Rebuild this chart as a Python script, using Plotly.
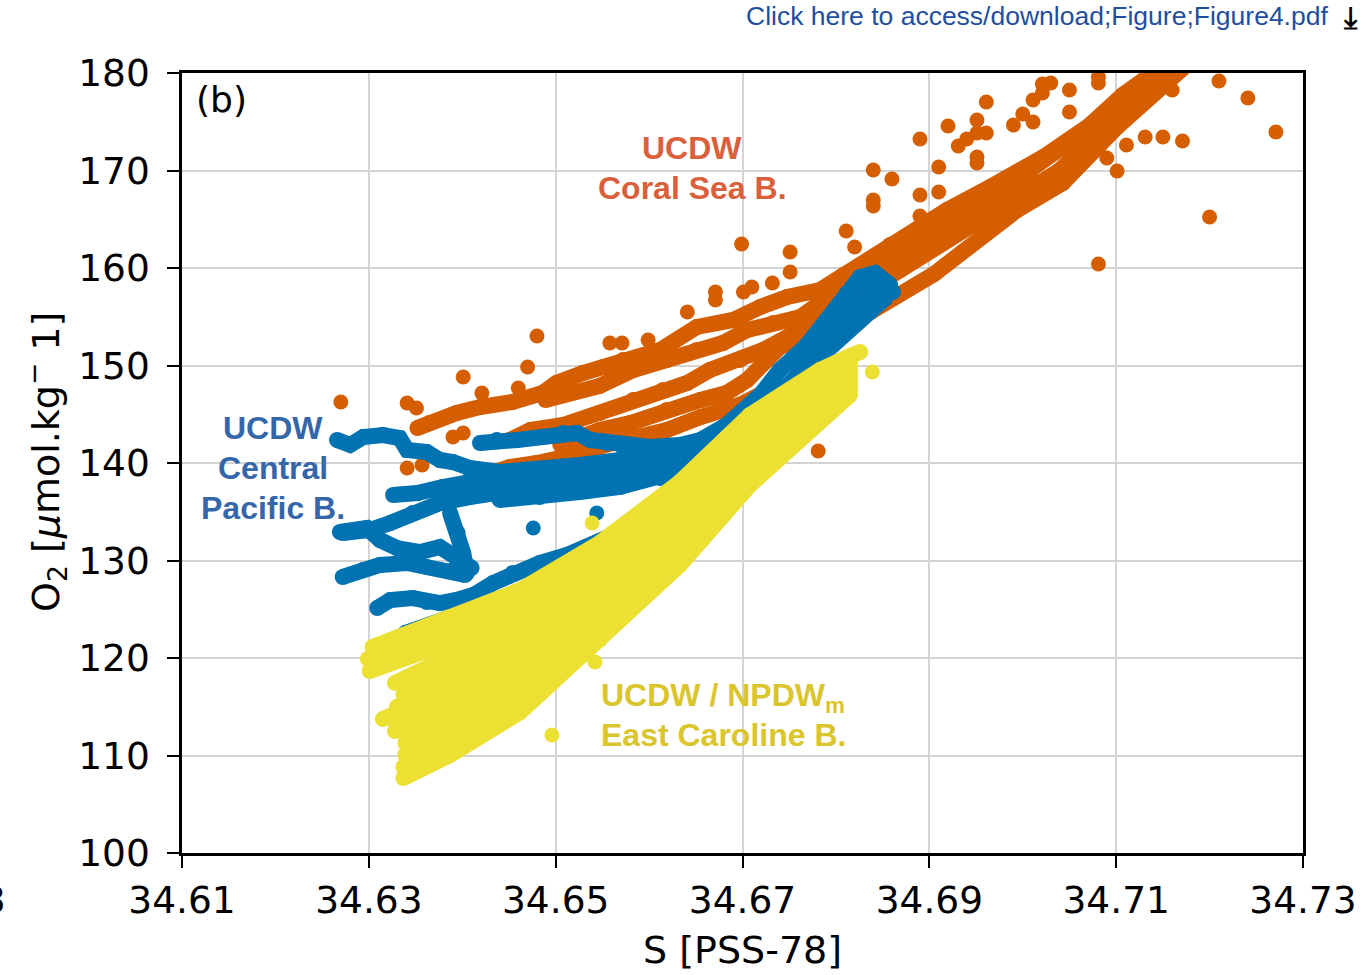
import plotly.graph_objects as go

# ---------------- data (salinity S [PSS-78], oxygen O2 [umol/kg]) ----------------
# Coral Sea Basin (UCDW) - casts
coral_tracks_s = [
    [34.6352, 34.6365, 34.6394, 34.6419, 34.6454, 34.6486, 34.6501, 34.6529, 34.6551, 34.6572, 34.6612, 34.6651,
     34.6690, 34.6719, 34.6748, 34.6783, 34.6808, 34.6858, 34.6919, 34.6965, 34.7022, 34.7072, 34.7107, 34.7147],
    [34.6489, 34.6547, 34.6583, 34.6619, 34.6651, 34.6679, 34.6705, 34.6733, 34.6762, 34.6783, 34.6815],
    [34.6451, 34.6473, 34.6508, 34.6547, 34.6583, 34.6615, 34.6641, 34.6665, 34.6697, 34.6722, 34.6748, 34.6769,
     34.6790, 34.6826, 34.6869, 34.6933, 34.6976, 34.7040, 34.7093, 34.7136, 34.7163],
    [34.6505, 34.6547, 34.6580, 34.6619, 34.6655, 34.6683, 34.6705, 34.6726, 34.6740, 34.6772, 34.6804, 34.6837,
     34.6905, 34.6994, 34.7043, 34.7101, 34.7150, 34.7179],
    [34.6408, 34.6427, 34.6451, 34.6480, 34.6508, 34.6529, 34.6553, 34.6583, 34.6619, 34.6655, 34.6697, 34.6729],
    [34.6837, 34.6890, 34.6954, 34.7008, 34.7061, 34.7104, 34.7136, 34.7158],
]
coral_tracks_o = [
    [143.59, 144.10, 145.13, 145.74, 146.26, 147.18, 148.21, 149.23, 149.85, 150.56, 151.59, 153.95,
     154.67, 156.00, 157.03, 157.74, 159.28, 162.36, 165.95, 168.31, 171.38, 174.67, 177.74, 180.51],
    [146.46, 147.90, 149.54, 150.56, 151.59, 152.31, 153.64, 154.36, 154.97, 156.41, 157.74],
    [142.36, 143.38, 143.90, 145.13, 146.46, 147.49, 148.21, 149.54, 150.56, 151.59, 152.92, 153.95,
     155.69, 157.23, 159.79, 163.69, 166.26, 170.05, 174.97, 179.08, 181.13],
    [141.85, 143.38, 144.10, 145.44, 146.46, 147.18, 148.51, 150.56, 151.90, 153.13, 154.87, 155.49,
     159.38, 165.95, 168.72, 174.46, 178.97, 181.13],
    [138.26, 138.97, 139.59, 140.00, 140.51, 141.03, 141.85, 142.36, 143.38, 144.72, 145.95, 147.49],
    [159.28, 162.87, 166.46, 169.85, 173.64, 177.23, 179.79, 181.13],
]
coral_single_s = [34.6270, 34.6341, 34.6351, 34.6401, 34.6421, 34.6460, 34.6470, 34.6480, 34.6390, 34.6401,
                  34.6341, 34.6357, 34.6558, 34.6571, 34.6599, 34.6641, 34.6671, 34.6671, 34.6701, 34.6710,
                  34.6732, 34.6699, 34.6751, 34.6751, 34.6781, 34.6811, 34.6820, 34.6840, 34.6860, 34.6840,
                  34.6840, 34.6890, 34.6890, 34.6890, 34.6910, 34.6910, 34.6920, 34.6931, 34.6940, 34.6951,
                  34.6951, 34.6961, 34.6961, 34.6951, 34.6951, 34.6990, 34.7000, 34.7011, 34.7011, 34.7021,
                  34.7021, 34.7030, 34.7050, 34.7050, 34.7081, 34.7081, 34.7160, 34.7210, 34.7241, 34.7271,
                  34.7200, 34.7081, 34.7101, 34.7090, 34.7081, 34.7072, 34.7111, 34.7131, 34.7150, 34.7171]
coral_single_o = [146.26, 146.15, 145.64, 148.82, 147.18, 147.69, 149.85, 153.03, 142.67, 143.08,
                  139.49, 139.80, 152.31, 152.31, 152.62, 155.49, 157.54, 156.72, 157.54, 158.05,
                  158.46, 162.46, 161.64, 159.59, 141.23, 163.79, 162.15, 170.05, 169.13, 166.97,
                  166.36, 173.23, 167.49, 165.33, 170.36, 167.79, 174.56, 172.51, 173.23, 175.18,
                  173.85, 173.85, 177.03, 171.38, 170.77, 174.67, 175.79, 174.97, 177.23, 177.95,
                  178.87, 178.97, 178.26, 176.00, 179.59, 178.97, 178.26, 179.18, 177.44, 173.95,
                  165.23, 160.41, 169.95, 171.28, 172.31, 172.82, 172.62, 173.44, 173.44, 173.03]

# Central Pacific Basin (UCDW) - casts
pacific_tracks_s = [
    [34.6266, 34.6280, 34.6294, 34.6315, 34.6333, 34.6341, 34.6362, 34.6376, 34.6390, 34.6408, 34.6440, 34.6483,
     34.6526, 34.6569, 34.6612, 34.6655],
    [34.6419, 34.6437, 34.6459, 34.6486, 34.6508, 34.6523, 34.6537, 34.6555, 34.6569, 34.6601, 34.6633, 34.6655,
     34.6683, 34.6703, 34.6719, 34.6740, 34.6769, 34.6790, 34.6812, 34.6826, 34.6842, 34.6858],
    [34.6633, 34.6665, 34.6697, 34.6729, 34.6762, 34.6790, 34.6815, 34.6837, 34.6861],
    [34.6644, 34.6676, 34.6708, 34.6740, 34.6772, 34.6799, 34.6826, 34.6853],
    [34.6272, 34.6301, 34.6323, 34.6347, 34.6376, 34.6408, 34.6437, 34.6473, 34.6508, 34.6544, 34.6580, 34.6615,
     34.6644],
    [34.6326, 34.6352, 34.6379, 34.6408, 34.6437, 34.6459, 34.6494, 34.6547, 34.6601],
    [34.6269, 34.6298, 34.6312, 34.6330, 34.6355, 34.6376, 34.6398, 34.6410],
    [34.6387, 34.6395, 34.6401, 34.6405],
    [34.6272, 34.6294, 34.6312, 34.6341, 34.6362, 34.6390, 34.6403],
    [34.6309, 34.6323, 34.6347, 34.6362, 34.6376, 34.6394, 34.6412, 34.6433, 34.6454, 34.6483, 34.6512, 34.6540,
     34.6566, 34.6590, 34.6612, 34.6633, 34.6655],
    [34.6339, 34.6365, 34.6398, 34.6440],
    [34.6440, 34.6483, 34.6526, 34.6569, 34.6612, 34.6644],
]
pacific_tracks_o = [
    [142.36, 141.85, 142.67, 142.87, 142.56, 141.33, 141.13, 140.31, 140.10, 139.49, 139.08, 139.28,
     139.80, 140.31, 140.82, 141.85],
    [142.05, 142.36, 142.36, 142.67, 143.08, 143.08, 142.36, 142.05, 141.85, 141.64, 141.85, 142.36,
     143.90, 145.44, 146.97, 149.54, 152.10, 154.67, 157.44, 159.08, 159.49, 158.26],
    [140.31, 141.33, 143.38, 145.95, 149.33, 152.62, 155.69, 157.74, 157.54],
    [139.80, 142.05, 144.41, 147.18, 150.05, 152.62, 154.87, 156.92],
    [132.82, 133.13, 133.85, 134.87, 135.90, 136.51, 136.92, 137.23, 137.95, 138.56, 138.97, 140.00,
     140.82],
    [136.72, 136.92, 137.54, 138.26, 138.56, 138.26, 138.46, 139.80, 140.10],
    [132.92, 133.33, 132.10, 131.28, 130.87, 131.38, 130.05, 129.23],
    [134.87, 132.82, 130.77, 128.72],
    [128.31, 129.03, 129.54, 129.74, 129.33, 129.03, 128.51],
    [125.13, 125.95, 126.15, 125.74, 125.64, 125.95, 126.46, 127.69, 128.72, 129.74, 130.56, 131.59,
     132.82, 134.36, 136.21, 137.74, 139.28],
    [122.56, 123.38, 124.41, 125.95],
    [136.21, 136.51, 137.03, 137.54, 138.46, 139.49],
]
pacific_single_s = [34.6476, 34.6544]
pacific_single_o = [133.33, 134.87]

# East Caroline Basin (UCDW / NPDWm) - casts
caroline_tracks_s = [
    [34.6304, 34.6387, 34.6462, 34.6547, 34.6633, 34.6708, 34.6783, 34.6815, 34.6826],
    [34.6299, 34.6387, 34.6462, 34.6547, 34.6633, 34.6708, 34.6783, 34.6815],
    [34.6301, 34.6387, 34.6462, 34.6547, 34.6633, 34.6708, 34.6783, 34.6815],
    [34.6328, 34.6387, 34.6462, 34.6547, 34.6633, 34.6708, 34.6783, 34.6815],
    [34.6337, 34.6387, 34.6462, 34.6547, 34.6633, 34.6708, 34.6783, 34.6815],
    [34.6330, 34.6387, 34.6462, 34.6547, 34.6633, 34.6708, 34.6783, 34.6815],
    [34.6315, 34.6387, 34.6462, 34.6547, 34.6633, 34.6708, 34.6783, 34.6815],
    [34.6328, 34.6387, 34.6462, 34.6547, 34.6633, 34.6708, 34.6783, 34.6815],
    [34.6339, 34.6387, 34.6462, 34.6547, 34.6633, 34.6708, 34.6783, 34.6815],
    [34.6339, 34.6387, 34.6462, 34.6547, 34.6633, 34.6708, 34.6783, 34.6815],
    [34.6337, 34.6387, 34.6462, 34.6547, 34.6633, 34.6708, 34.6783, 34.6815],
    [34.6337, 34.6387, 34.6462, 34.6547, 34.6633, 34.6708, 34.6783, 34.6815],
]
caroline_tracks_o = [
    [121.13, 124.21, 126.97, 131.79, 138.05, 144.92, 149.54, 150.97, 151.38],
    [119.90, 122.87, 125.85, 130.87, 137.23, 144.31, 149.03, 150.67],
    [118.67, 121.64, 124.72, 129.95, 136.51, 143.59, 148.62, 150.26],
    [117.44, 120.31, 123.59, 129.03, 135.69, 142.97, 148.10, 149.95],
    [116.21, 119.08, 122.46, 128.21, 134.97, 142.36, 147.69, 149.54],
    [114.97, 117.74, 121.33, 127.28, 134.15, 141.64, 147.18, 149.23],
    [113.74, 116.51, 120.21, 126.36, 133.44, 141.03, 146.77, 148.82],
    [112.51, 115.18, 119.08, 125.44, 132.62, 140.41, 146.26, 148.51],
    [111.28, 113.95, 117.95, 124.51, 131.90, 139.69, 145.85, 148.10],
    [110.05, 112.62, 116.82, 123.69, 131.08, 139.08, 145.33, 147.79],
    [108.82, 111.38, 115.69, 122.77, 130.36, 138.36, 144.92, 147.38],
    [107.69, 110.05, 114.46, 121.85, 129.54, 137.74, 144.41, 146.97],
]
caroline_single_s = [34.6839, 34.6539, 34.6542, 34.6496]
caroline_single_o = [149.33, 133.85, 119.59, 112.10]

x_ticks = [34.61, 34.63, 34.65, 34.67, 34.69, 34.71, 34.73]
x_tick_labels = ["34.61", "34.63", "34.65", "34.67", "34.69", "34.71", "34.73"]
y_ticks = [100, 110, 120, 130, 140, 150, 160, 170, 180]
y_tick_labels = ["100", "110", "120", "130", "140", "150", "160", "170", "180"]

# ---------------- style ----------------
ORANGE = "#D55E00"
BLUE = "#0173B2"
YELLOW = "#ECE133"
MS_TRACK = 16   # marker diameter on casts (px)
LW = 16         # cast line width (px)
MS = 15         # single sample marker diameter (px)
TICKFONT = dict(family="DejaVu Sans", size=37.5, color="black")


def joined(tracks):
    out = []
    for t in tracks:
        out += list(t) + [None]
    return out


fig = go.Figure()


def add_cluster(tracks_s, tracks_o, single_s, single_o, color):
    fig.add_trace(go.Scatter(
        x=joined(tracks_s), y=joined(tracks_o), mode="lines+markers",
        line=dict(color=color, width=LW), marker=dict(color=color, size=MS_TRACK, line=dict(width=0)),
        connectgaps=False, showlegend=False, hoverinfo="skip"))
    fig.add_trace(go.Scatter(
        x=single_s, y=single_o, mode="markers",
        marker=dict(color=color, size=MS, line=dict(width=0)),
        showlegend=False, hoverinfo="skip"))


add_cluster(coral_tracks_s, coral_tracks_o, coral_single_s, coral_single_o, ORANGE)
add_cluster(pacific_tracks_s, pacific_tracks_o, pacific_single_s, pacific_single_o, BLUE)
add_cluster(caroline_tracks_s, caroline_tracks_o, caroline_single_s, caroline_single_o, YELLOW)

# plot area in page pixels
L, R, T, B = 182, 1303, 73, 853
W, H = 1367, 975


def px(x):
    return (x - L) / (R - L)


def py(y):
    return (B - y) / (B - T)


def note(text, x, y, size, color, family, bold=False, xanchor="center", yanchor="middle", angle=0):
    if bold:
        text = "<b>" + text + "</b>"
    fig.add_annotation(text=text, x=px(x), y=py(y), xref="paper", yref="paper",
                       xanchor=xanchor, yanchor=yanchor, showarrow=False, textangle=angle,
                       font=dict(size=size, color=color, family=family))


LABEL_FONT = "Liberation Sans"
note("(b)", 194, 100, 36, "black", "DejaVu Sans", xanchor="left")
note("UCDW", 692, 148, 32, "#D9603B", LABEL_FONT, bold=True)
note("Coral Sea B.", 692, 188, 32, "#D9603B", LABEL_FONT, bold=True)
note("UCDW", 273, 428, 32, "#3566AA", LABEL_FONT, bold=True)
note("Central", 273, 468, 32, "#3566AA", LABEL_FONT, bold=True)
note("Pacific B.", 273, 508, 32, "#3566AA", LABEL_FONT, bold=True)
note("UCDW / NPDW<sub>m</sub>", 723, 697, 32, "#DBC52C", LABEL_FONT, bold=True)
note("East Caroline B.", 723, 735, 32, "#DBC52C", LABEL_FONT, bold=True)
note("S [PSS-78]", 742, 950, 38, "black", "DejaVu Sans")
note("O<sub>2</sub> [<i>μ</i>mol.kg<sup>−</sup> 1]", 45, 462, 38, "black", "DejaVu Sans", angle=-90)
note("Click here to access/download;Figure;Figure4.pdf", 1330, 16, 26.5, "#1F4E9E", LABEL_FONT,
     xanchor="right")
note("<b>⤓</b>", 1350, 17, 30, "black", "DejaVu Sans")
note("3", 8, 900, 37.5, "black", "DejaVu Sans", xanchor="right")

axis_common = dict(
    showgrid=True, gridcolor="#d4d4d4", gridwidth=2,
    showline=True, linecolor="black", linewidth=2.5, mirror=True,
    ticks="outside", ticklen=12, tickwidth=2, tickcolor="black",
    tickfont=TICKFONT, zeroline=False, tickmode="array",
)
fig.update_xaxes(range=[34.61, 34.73], tickvals=x_ticks, ticktext=x_tick_labels,
                 ticklabelstandoff=0, **axis_common)
fig.update_yaxes(range=[100, 180], tickvals=y_ticks, ticktext=y_tick_labels,
                 ticklabelstandoff=10, **axis_common)

fig.update_layout(
    width=W, height=H,
    margin=dict(l=L, r=W - R, t=T, b=H - B, autoexpand=False),
    plot_bgcolor="white", paper_bgcolor="white",
    showlegend=False,
)

fig.write_html("out.html")
